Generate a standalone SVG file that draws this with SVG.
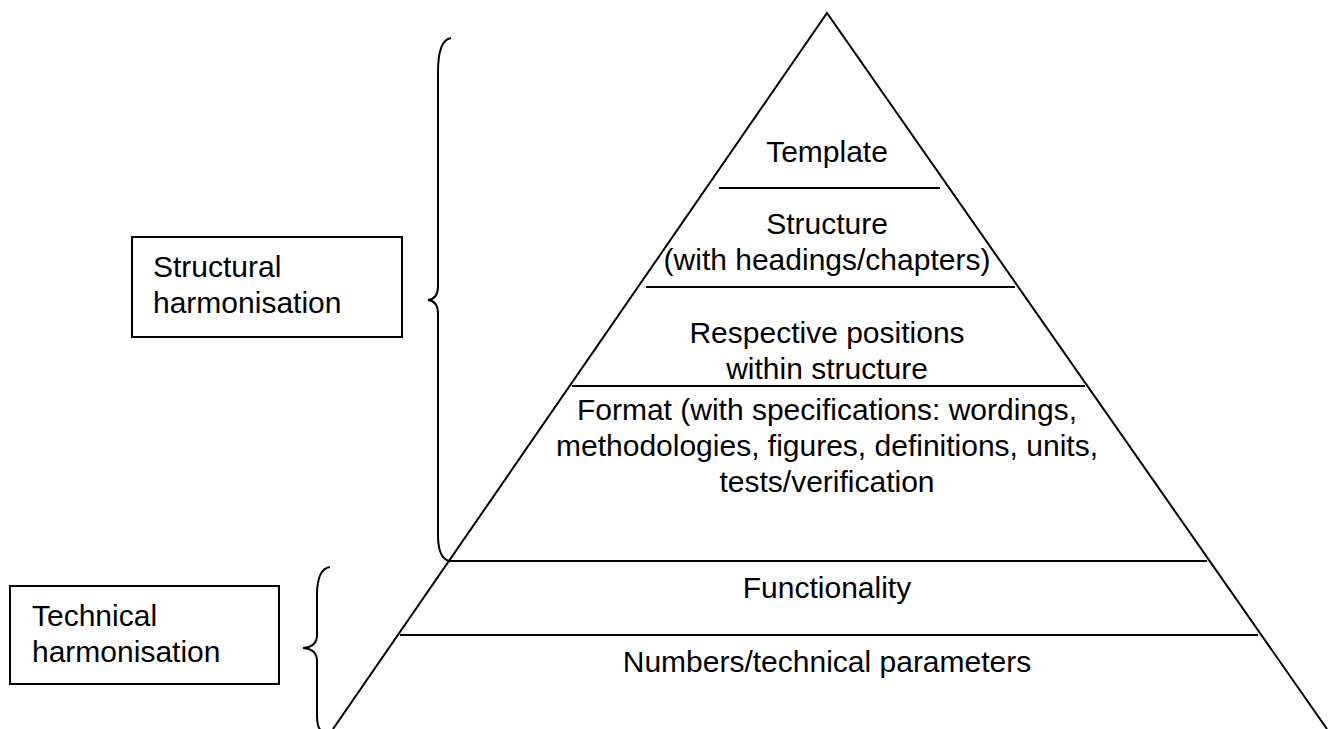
<svg xmlns="http://www.w3.org/2000/svg" width="1338" height="729" viewBox="0 0 1338 729">
<style>
.ln{stroke:#000;stroke-width:2;fill:none}
.t{font-family:"Liberation Sans",Arial,sans-serif;font-size:30px;fill:#000}
.c{text-anchor:middle}
</style>
<rect width="1338" height="729" fill="#fff"/>
<g id="pyramid">
<path class="ln" d="M333,729 L827,13 L1327,729"/>
</g>
<g id="connectors">
<line class="ln" x1="719" y1="188" x2="940" y2="188"/>
<line class="ln" x1="646" y1="287" x2="1015" y2="287"/>
<line class="ln" x1="572" y1="386" x2="1085" y2="386"/>
<line class="ln" x1="449" y1="561" x2="1207" y2="561"/>
<line class="ln" x1="400" y1="635" x2="1258" y2="635"/>
<path class="ln" d="M451,38 Q438,40 438,72 L438,286 Q438,299 428,300 Q438,301 438,314 L438,535 Q438,558 449,561"/>
<path class="ln" d="M330,567 Q317,569 317,595 L317,635 Q317,647 303,648 Q317,649 317,661 L317,715 Q317,729 322,731"/>
</g>
<g id="layer-template"><text class="t c" x="827" y="162">Template</text></g>
<g id="layer-structure"><text class="t c" x="827" y="234">Structure</text><text class="t c" x="827" y="270">(with headings/chapters)</text></g>
<g id="layer-positions"><text class="t c" x="827" y="343">Respective positions</text><text class="t c" x="827" y="379">within structure</text></g>
<g id="layer-format"><text class="t c" x="827" y="420">Format (with specifications: wordings,</text><text class="t c" x="827" y="456">methodologies, figures, definitions, units,</text><text class="t c" x="827" y="492">tests/verification</text></g>
<g id="layer-functionality"><text class="t c" x="827" y="598">Functionality</text></g>
<g id="layer-numbers"><text class="t c" x="827" y="672">Numbers/technical parameters</text></g>
<g id="box-structural"><rect class="ln" x="132" y="237" width="270" height="100"/><text class="t" x="153" y="277">Structural</text><text class="t" x="153" y="313">harmonisation</text></g>
<g id="box-technical"><rect class="ln" x="10" y="586" width="269" height="98"/><text class="t" x="32" y="626">Technical</text><text class="t" x="32" y="662">harmonisation</text></g>
</svg>
